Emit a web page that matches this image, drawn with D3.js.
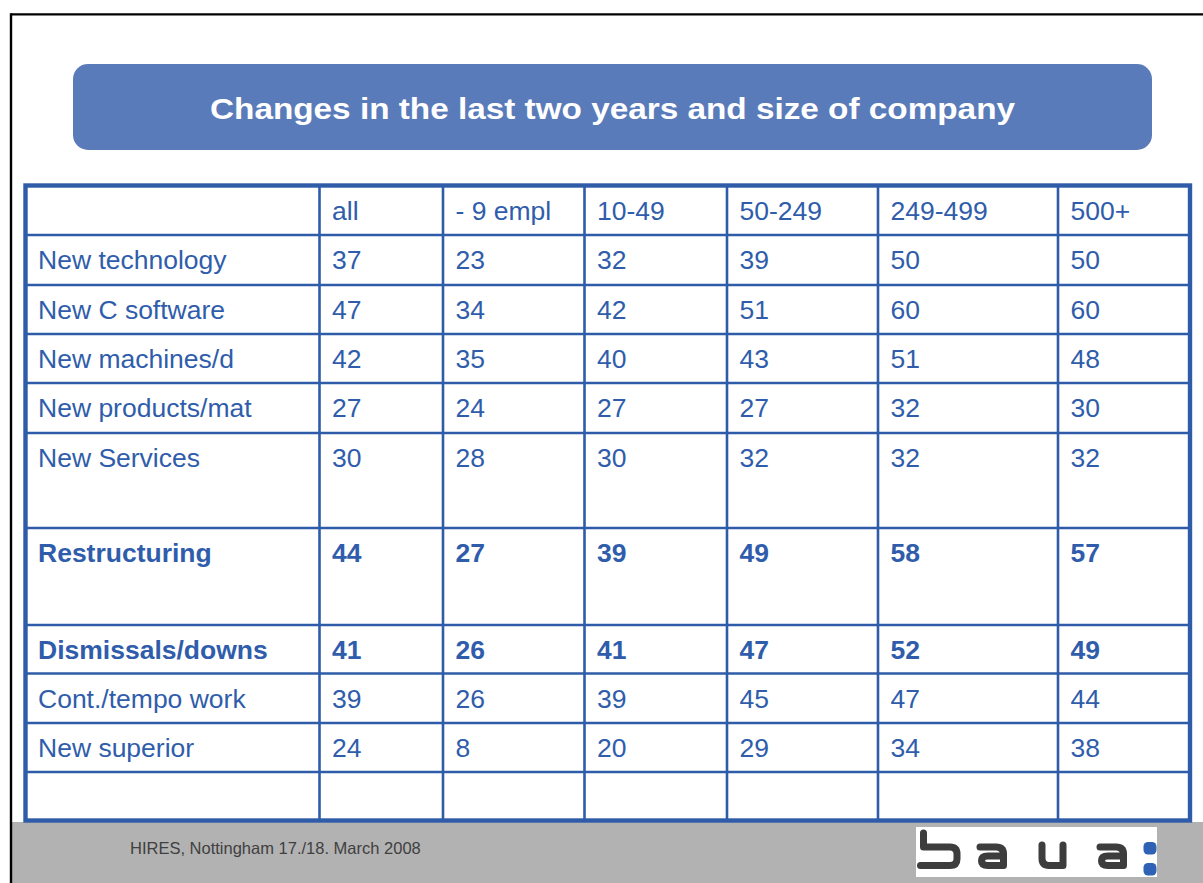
<!DOCTYPE html>
<html>
<head>
<meta charset="utf-8">
<script src="https://cdn.jsdelivr.net/npm/d3@7"></script>
<style>
body { margin: 0; background: #fff; }
svg { display: block; font-family: Arial, "Liberation Sans", sans-serif; }
</style>
</head>
<body>
<div id="slide"></div>
<script>
var title = "Changes in the last two years and size of company";
var footer = "HIRES, Nottingham 17./18. March 2008";

var columns = ["", "all", "- 9 empl", "10-49", "50-249", "249-499", "500+"];
var rowLabels = ["New technology", "New C software", "New machines/d", "New products/mat",
                 "New Services", "Restructuring", "Dismissals/downs", "Cont./tempo work",
                 "New superior", ""];
var allValues   = [37, 47, 42, 27, 30, 44, 41, 39, 24, null];
var empl9Values = [23, 34, 35, 24, 28, 27, 26, 26, 8, null];
var s10_49      = [32, 42, 40, 27, 30, 39, 41, 39, 20, null];
var s50_249     = [39, 51, 43, 27, 32, 49, 47, 45, 29, null];
var s249_499    = [50, 60, 51, 32, 32, 58, 52, 47, 34, null];
var s500plus    = [50, 60, 48, 30, 32, 57, 49, 44, 38, null];
var boldRows = ["Restructuring", "Dismissals/downs"];

// layout (boundaries of the table grid)
var colEdges = [25.5, 319.5, 443, 584.5, 727, 878, 1058, 1190];
var rowEdges = [185.5, 235, 285, 334, 383, 433, 528, 625, 673.5, 723, 772, 820.5];

var W = 1203, H = 883;
var blue = "#2f5ca8";
var textBlue = "#2f5dab";

var svg = d3.select("#slide").append("svg")
    .attr("width", W)
    .attr("height", H);

// footer band + frame
svg.append("rect").attr("x", 12).attr("y", 822).attr("width", W - 12).attr("height", H - 822)
    .attr("fill", "#b2b2b2");
svg.append("line").attr("x1", 11).attr("y1", 14.3).attr("x2", W).attr("y2", 14.3)
    .attr("stroke", "#000").attr("stroke-width", 2.2);
svg.append("line").attr("x1", 11).attr("y1", 13.2).attr("x2", 11).attr("y2", H)
    .attr("stroke", "#000").attr("stroke-width", 2.4);

// title box
svg.append("rect").attr("x", 73).attr("y", 64).attr("width", 1079).attr("height", 86)
    .attr("rx", 15).attr("fill", "#5a7bba");
svg.append("text").attr("x", 612.5).attr("y", 119)
    .attr("text-anchor", "middle")
    .attr("fill", "#fff")
    .attr("font-weight", "bold")
    .attr("font-size", "30px")
    .attr("textLength", 805)
    .attr("lengthAdjust", "spacingAndGlyphs")
    .text(title);

// scales
var x = d3.scaleLinear().domain(d3.range(colEdges.length)).range(colEdges);
var y = d3.scaleLinear().domain(d3.range(rowEdges.length)).range(rowEdges);

// build table rows: header + data
var series = [allValues, empl9Values, s10_49, s50_249, s249_499, s500plus];
var table = [columns];
rowLabels.forEach(function(lab, i) {
    var r = [lab];
    series.forEach(function(s) { r.push(s[i] == null ? "" : String(s[i])); });
    table.push(r);
});

var grid = svg.append("g");
// inner lines
for (var c = 1; c < colEdges.length - 1; c++) {
    grid.append("line")
        .attr("x1", x(c)).attr("x2", x(c))
        .attr("y1", y(0)).attr("y2", y(rowEdges.length - 1))
        .attr("stroke", blue).attr("stroke-width", 2.6);
}
for (var r = 1; r < rowEdges.length - 1; r++) {
    grid.append("line")
        .attr("x1", x(0)).attr("x2", x(colEdges.length - 1))
        .attr("y1", y(r)).attr("y2", y(r))
        .attr("stroke", blue).attr("stroke-width", 2.6);
}
// outer border
grid.append("rect")
    .attr("x", x(0)).attr("y", y(0))
    .attr("width", x(colEdges.length - 1) - x(0))
    .attr("height", y(rowEdges.length - 1) - y(0))
    .attr("fill", "none").attr("stroke", blue).attr("stroke-width", 4.4);

// cell texts
var rowsG = svg.selectAll("g.row").data(table).enter().append("g").attr("class", "row");
rowsG.selectAll("text").data(function(d, i) {
        return d.map(function(v, j) { return { v: v, r: i, c: j, bold: boldRows.indexOf(d[0]) >= 0 }; });
    })
    .enter().append("text")
    .attr("x", function(d) { return x(d.c) + 12.5; })
    .attr("y", function(d) { return y(d.r) + 34; })
    .attr("fill", textBlue)
    .attr("font-size", "26.5px")
    .attr("font-weight", function(d) { return d.bold ? "bold" : "normal"; })
    .text(function(d) { return d.v; });

// footer text
svg.append("text").attr("x", 130).attr("y", 854)
    .attr("fill", "#404040").attr("font-size", "16.5px")
    .text(footer);

// logo
var logo = svg.append("g");
logo.append("rect").attr("x", 916).attr("y", 827).attr("width", 241).attr("height", 50).attr("fill", "#fff");
var letterPaths = [
    "M923.5,833 L923.5,847 L950,847 Q957,847 957,854 L957,859 Q957,865.5 950,865.5 L920.5,865.5",
    "M980,847 L996,847 Q1003.5,847 1003.5,854 L1003.5,865.5 L988,865.5 Q981.5,865.5 981.5,860.7 Q981.5,856 988,856 L1003.5,856",
    "M1042,845 L1042,858 Q1042,865.5 1049,865.5 L1063,865.5 L1063,845",
    "M1100,847 L1116,847 Q1123.5,847 1123.5,854 L1123.5,865.5 L1108,865.5 Q1101.5,865.5 1101.5,860.7 Q1101.5,856 1108,856 L1123.5,856"
];
logo.selectAll("path").data(letterPaths).enter().append("path")
    .attr("d", function(d) { return d; })
    .attr("fill", "none").attr("stroke", "#3d3d3d")
    .attr("stroke-width", 7).attr("stroke-linecap", "round").attr("stroke-linejoin", "round");
logo.selectAll("rect.dot").data([842, 863]).enter().append("rect").attr("class", "dot")
    .attr("x", 1143.5).attr("y", function(d) { return d; })
    .attr("width", 13).attr("height", 12.5).attr("rx", 4.5)
    .attr("fill", "#2f62b4");
</script>
</body>
</html>
